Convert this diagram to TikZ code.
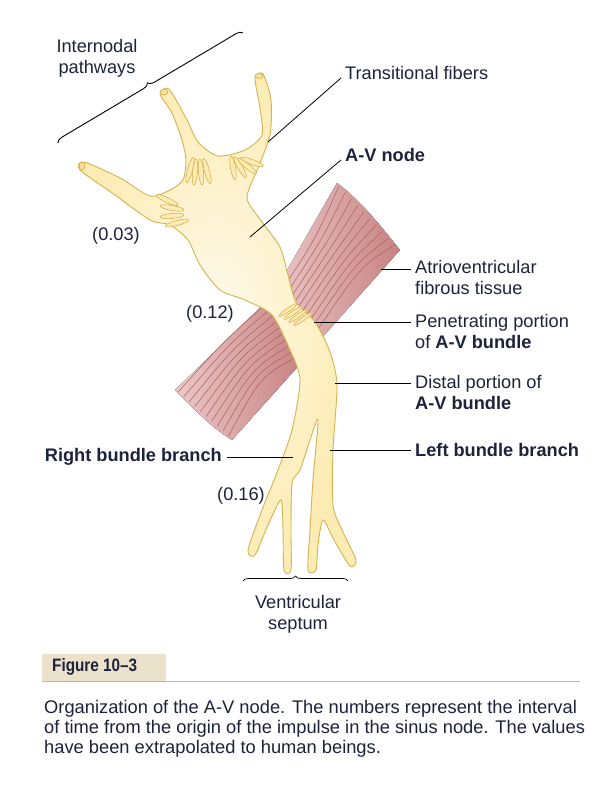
\documentclass[tikz,border=0pt]{standalone}
\usepackage{fontspec}
\setmainfont{Liberation Sans}
\usetikzlibrary{decorations.pathreplacing}
\definecolor{fib}{RGB}{252,236,180}
\definecolor{fibd}{RGB}{214,178,80}
\definecolor{fibl}{RGB}{255,250,236}
\definecolor{musc}{RGB}{200,130,130}
\definecolor{muscl}{RGB}{236,200,200}
\definecolor{muscd}{RGB}{170,95,95}
\definecolor{capbg}{RGB}{236,226,204}
\definecolor{capln}{RGB}{200,180,140}
\definecolor{txt}{RGB}{30,35,60}
\begin{document}
\begin{tikzpicture}[x=1pt,y=-1pt,
  lab/.style={font=\fontsize{18.2}{21}\selectfont,text=txt,inner sep=0pt},
  blab/.style={lab,font=\fontsize{18.2}{21}\selectfont\bfseries},
  ptr/.style={black,line width=0.8pt},
  lobe/.style={draw=fibd,fill=fib,line width=0.6pt},
  brc/.style={decorate,decoration={brace,amplitude=6pt},line width=0.9pt}]
\useasboundingbox (0,0) rectangle (604,800);
\fill[white] (0,0) rectangle (604,800);
% muscle bands
\fill[left color=muscl,right color=musc] (270,300) -- (337,183) .. controls (360,200) and (380,225) .. (400,250) -- (320,340) -- cycle;
\fill[left color=muscl,right color=musc] (268,300) -- (175,390) .. controls (195,410) and (212,428) .. (232,440) -- (302,362) -- cycle;
\foreach \i in {0,...,9}{
  \draw[muscd,line width=0.5pt] ({339+\i*6.2},{186+\i*6.5}) .. controls ({315+\i*5},{240+\i*3}) .. ({274+\i*4.5},{302+\i*3.6});
  \draw[muscd,line width=0.5pt] ({178+\i*5.6},{392+\i*4.9}) .. controls ({225+\i*4},{340+\i*4}) .. ({268+\i*3.4},{302+\i*6});
}
% body
\node[inner sep=0pt] (body) at (260,300) {};
\draw[fibd,line width=0.9pt,inner color=fibl,outer color=fib] plot[smooth cycle,tension=0.45] coordinates {
(84,162) (120,178) (150,196) (170,190) (183,180) (186,160) (182,140) (172,113) (160,94) (169,89) (186,118) (198,142) (218,156) (245,150) (262,135) (260,108) (255,78) (263,74) (271,100) (270,135) (258,168) (247,198) (262,222) (280,247) (288,275) (296,302) (315,322) (330,352) (337,385) (333,450) (333,505) (342,530) (356,560) (350,566) (334,540) (323,520) (318,545) (316,570) (308,570) (310,530) (313,480) (318,420) (310,440) (300,470) (292,483) (291,530) (291,570) (284,570) (283,530) (281,500) (268,525) (255,555) (248,550) (262,510) (278,470) (292,430) (300,380) (290,350) (272,315) (245,300) (220,290) (200,265) (188,240) (170,225) (150,220) (115,195) (80,170)};
% tips
\draw[fibd,line width=0.7pt,fill=fib!80!fibd] (82,166) ellipse (3 and 4);
\draw[fibd,line width=0.7pt,fill=fib!80!fibd] (164,92) ellipse (4 and 3);
\draw[fibd,line width=0.7pt,fill=fib!80!fibd] (259,76) ellipse (4 and 2.5);
% fan lobes
\foreach \a/\b/\c in {155/200/-25,160/208/-10,160/216/5,165/223/15}
  \draw[lobe,rotate around={\c:(\a+12,\b)}] (\a+12,\b) ellipse (12 and 2.5);
\foreach \a/\b/\c in {190/170/75,195/172/85,201/172/95,207/171/105}
  \draw[lobe,rotate around={\c:(\a,\b)}] (\a,\b) ellipse (13 and 2.5);
\foreach \a/\b/\c in {233/168/100,240/167/120,247/166/140,252/162/160}
  \draw[lobe,rotate around={\c:(\a,\b)}] (\a,\b) ellipse (12 and 2.5);
\foreach \a/\b in {280/306,285/309,290/312,295/315}
  \draw[lobe,rotate around={35:(\a+8,\b+4)}] (\a+8,\b+4) ellipse (11 and 1.8);
% labels
\node[lab,align=center] (inter) at (97,58) {Internodal\\pathways};
\coordinate (b1) at (58,143); \coordinate (b2) at (243,33);
\draw[brc] (b1) -- (b2);
\node[lab,anchor=west] (trans) at (345,73) {Transitional fibers};
\coordinate (tr) at (268,142);
\draw[ptr] (341,78) -- (tr);
\node[blab,anchor=west] (avn) at (345,155) {A-V node};
\coordinate (av) at (250,237);
\draw[ptr] (341,160) -- (av);
\node[lab,anchor=north west,align=left] (atrio) at (415,260) {Atrioventricular\\fibrous tissue};
\coordinate (at) at (381,269);
\draw[ptr] (at) -- (411,269);
\node[lab,anchor=north west,align=left] (pen) at (415,314) {Penetrating portion\\of \textbf{A-V bundle}};
\coordinate (pe) at (314,322);
\draw[ptr] (pe) -- (411,322);
\node[lab,anchor=north west,align=left] (dist) at (415,375) {Distal portion of\\\textbf{A-V bundle}};
\coordinate (di) at (335,383);
\draw[ptr] (di) -- (411,383);
\node[blab,anchor=west] (lbb) at (415,450) {Left bundle branch};
\coordinate (lb) at (330,450);
\draw[ptr] (lb) -- (411,450);
\node[blab,anchor=east] (rbb) at (222,457) {Right bundle branch};
\coordinate (rb) at (293,457);
\draw[ptr] (227,457) -- (rb);
\node[lab] (n1) at (116,236) {(0.03)};
\node[lab] (n2) at (210,314) {(0.12)};
\node[lab] (n3) at (241,496) {(0.16)};
\coordinate (s1) at (348,581); \coordinate (s2) at (243,581);
\draw[brc,line width=0.7pt,decoration={amplitude=5pt}] (s2) -- (s1);
\node[lab,align=center] (sept) at (298,614) {Ventricular\\septum};
% caption
\fill[capbg] (42,654) rectangle (166,681);
\draw[capln,line width=0.8pt] (42,681) -- (580,681);
\node[anchor=west,inner sep=0pt,font=\fontsize{18}{20}\selectfont\bfseries,text=txt,xscale=0.85] (fig) at (52,667) {Figure 10--3};
\node[anchor=north west,inner sep=0pt,text=txt,align=left,font=\fontsize{18.3}{20}\selectfont] (cap) at (44,700) {Organization of the A-V node. The numbers represent the interval\\of time from the origin of the impulse in the sinus node. The values\\have been extrapolated to human beings.};
\end{tikzpicture}
\end{document}
